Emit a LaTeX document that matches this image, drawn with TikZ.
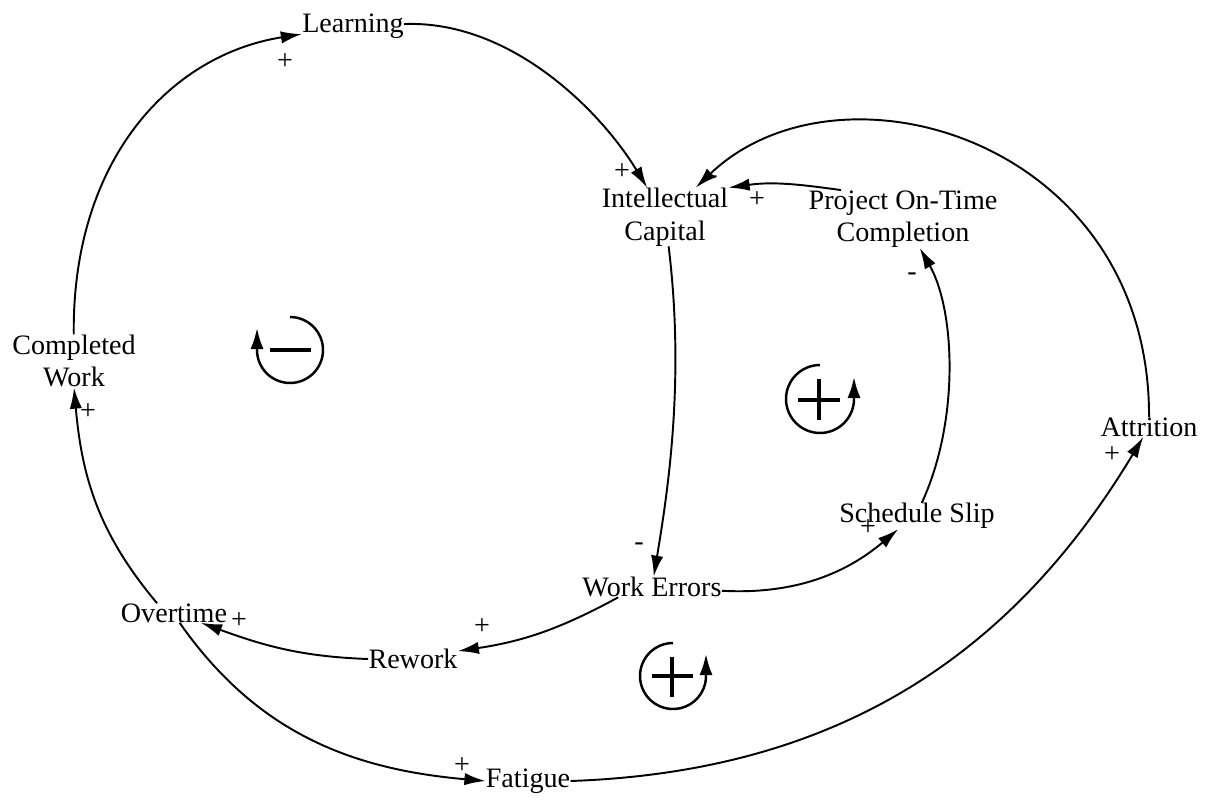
\documentclass[tikz,border=0pt]{standalone}
\usepackage{fontspec}
\setmainfont{Liberation Serif}
\usetikzlibrary{arrows.meta}
\begin{document}
\begin{tikzpicture}[x=0.02cm, y=0.02cm, font=\fontsize{16}{18.5}\selectfont,
	var/.style={inner sep=0pt, align=center},
	sgn/.style={inner sep=0pt},
	link/.style={-{Latex[length=12pt,width=7pt]}, line width=1.1pt},
	loopsym/.style={-{Latex[length=12pt,width=7.5pt]}, line width=1.4pt},
	loopmark/.style={line width=2.3pt}]
	\useasboundingbox (0,0) rectangle (1216,-804);
	\node[var] (lrn) at (353,-26) {Learning};
	\node[var] (ic) at (665,-217) {Intellectual\\Capital};
	\node[var] (poc) at (903,-219) {Project On-Time\\Completion};
	\node[var] (cw) at (74,-361) {Completed\\Work};
	\node[var] (we) at (652,-587) {Work Errors};
	\node[var] (ss) at (917,-516) {Schedule Slip};
	\node[var] (att) at (1149,-427) {Attrition};
	\node[var] (ot) at (174,-613) {Overtime};
	\node[var] (rw) at (413,-659) {Rework};
	\node[var] (fat) at (528,-781) {Fatigue};
	% links
	\draw[link] (cw) .. controls (72,-160) and (170,-55) .. (lrn);
	\draw[link] (lrn) .. controls (510,-20) and (600,-110) .. (ic);
	\draw[link] (att) .. controls (1150,-140) and (840,-50) .. (ic);
	\draw[link] (poc.155) to[out=172,in=8] (ic.north east);
	\draw[link] (ic) .. controls (685,-380) and (668,-490) .. (we);
	\draw[link] (we) .. controls (800,-595) and (850,-570) .. (ss.215);
	\draw[link] (ss.70) .. controls (960,-420) and (955,-310) .. (poc.300);
	\draw[link] (we.197) to[bend left=10] (rw.10);
	\draw[link] (rw.west) to[out=178,in=-20] (ot.-20);
	\draw[link] (ot.150) to[out=130,in=-85] (cw.south);
	\draw[link] (ot.-60) to[out=-55,in=175] (fat.west);
	\draw[link] (fat.east) to[out=2,in=-121] (att.-120);
	% polarities
	\node[sgn] (plrn) at (285,-62) {+};
	\node[sgn] (pic1) at (622,-172) {+};
	\node[sgn] (mic) at (713,-180) {-};
	\node[sgn] (pic2) at (757,-200) {+};
	\node[sgn] (mpoc) at (912,-277) {-};
	\node[sgn] (mwe) at (639,-547) {-};
	\node[sgn] (pss) at (868,-528) {+};
	\node[sgn] (patt) at (1112,-455) {+};
	\node[sgn] (prw) at (482,-627) {+};
	\node[sgn] (pot) at (239,-621) {+};
	\node[sgn] (pcw) at (88,-412) {+};
	\node[sgn] (pfat) at (462,-766) {+};
	% loop markers
	\draw[loopsym] (290,-317) arc[start angle=90, end angle=-180, radius=0.66cm] -- ++(0,22);
	\draw[loopmark] (270,-350) -- (311,-350);
	\draw[loopsym] (820,-365) arc[start angle=90, end angle=360, radius=0.68cm] -- ++(0,22);
	\draw[loopmark] (798,-400) -- (840,-400); \draw[loopmark] (819,-379) -- (819,-420);
	\draw[loopsym] (673,-643) arc[start angle=90, end angle=360, radius=0.66cm] -- ++(0,22);
	\draw[loopmark] (652,-676) -- (693,-676); \draw[loopmark] (672,-657) -- (672,-697);
\end{tikzpicture}
\end{document}
